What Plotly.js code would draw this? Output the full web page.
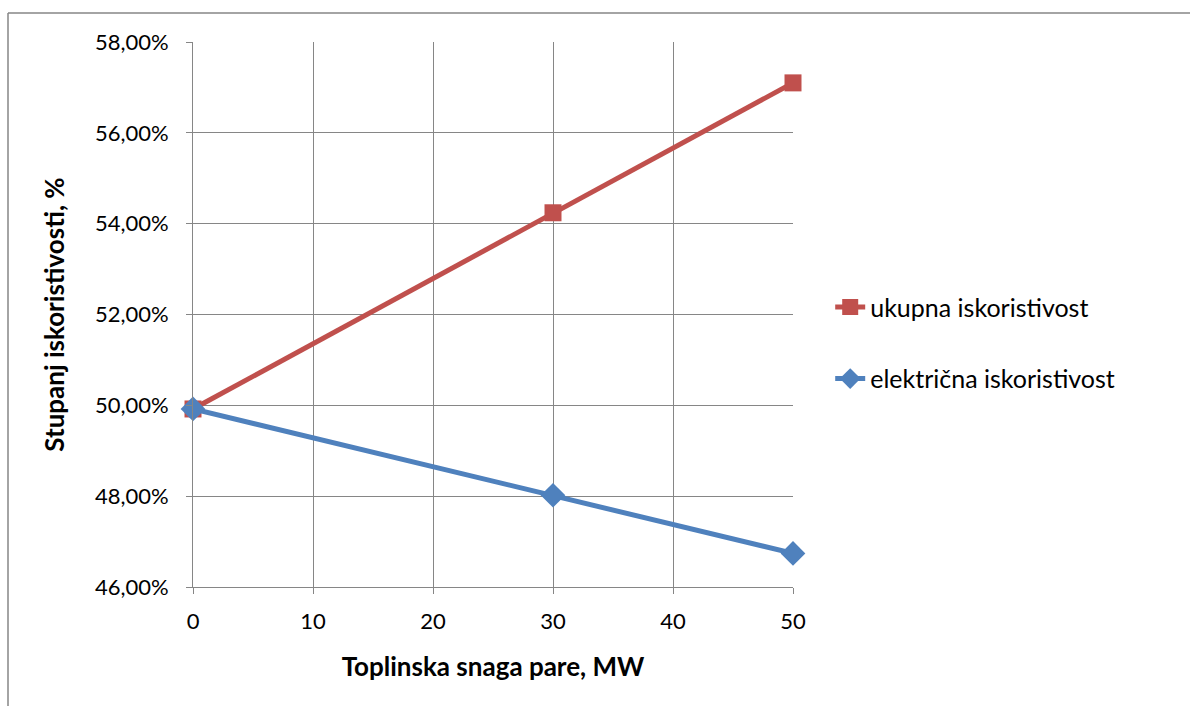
<!DOCTYPE html>
<html>
<head>
<meta charset="utf-8">
<script src="https://cdn.plot.ly/plotly-3.0.1.min.js"></script>
<style>html,body{margin:0;padding:0;background:#fff;}#chart{width:1190px;height:706px;}</style>
</head>
<body>
<div id="chart"></div>
<script>
const xValues = [0, 30, 50];
const ukupna = [0.4992, 0.5424, 0.5710];
const elektricna = [0.4992, 0.4802, 0.4674];
const nameUkupna = 'ukupna iskoristivost';
const nameElektricna = 'električna iskoristivost';
const xTitle = 'Toplinska snaga pare, MW';
const yTitle = 'Stupanj iskoristivosti, %';

const font = 'Lato, "Open Sans", sans-serif';

const traces = [
  {x: xValues, y: ukupna, name: nameUkupna, type: 'scatter', mode: 'lines+markers', cliponaxis: false,
   line: {color: '#C0504D', width: 5}, marker: {symbol: 'square', size: 17, color: '#C0504D'},
   legendgroup: 'a'},
  {x: xValues, y: elektricna, name: nameElektricna, type: 'scatter', mode: 'lines+markers', cliponaxis: false,
   line: {color: '#4F81BD', width: 5}, marker: {symbol: 'diamond', size: 19, color: '#4F81BD'},
   legendgroup: 'b'}
];

const layout = {
  width: 1190, height: 706,
  margin: {l: 193, r: 397, t: 42, b: 119},
  paper_bgcolor: '#fff', plot_bgcolor: '#fff',
  separators: ', ',
  font: {family: font, size: 22, color: '#000'},
  showlegend: true,
  legend: {x: 1.062, xanchor: 'left', y: 0.448, yanchor: 'middle', traceorder: 'grouped',
           tracegroupgap: 36, font: {family: font, size: 25, color: '#000'}, bgcolor: 'rgba(0,0,0,0)'},
  xaxis: {range: [0, 50], tickvals: [0, 10, 20, 30, 40, 50], showgrid: true, gridcolor: '#868686', gridwidth: 1,
          zeroline: false, showline: true, linecolor: '#868686', linewidth: 1, mirror: false,
          ticks: 'outside', ticklen: 6, tickcolor: '#868686', tickfont: {size: 22}, ticklabelstandoff: 9,
          title: {text: xTitle, font: {family: font, size: 26, weight: 'bold'}, standoff: 24}},
  yaxis: {range: [0.46, 0.58], dtick: 0.02, tickformat: '.2%', showgrid: true, gridcolor: '#868686', gridwidth: 1,
          zeroline: false, showline: true, linecolor: '#868686', linewidth: 1,
          ticks: 'outside', ticklen: 6, tickcolor: '#868686', tickfont: {size: 22}, ticklabelstandoff: 13,
          title: {text: yTitle, font: {family: font, size: 26, weight: 'bold'}, standoff: 22}},
  shapes: [
    {type: 'line', xref: 'paper', yref: 'paper', x0: (8-193)/600, x1: (1190-193)/600, y0: (587-13)/545, y1: (587-13)/545,
     line: {color: '#868686', width: 1.5}},
    {type: 'line', xref: 'paper', yref: 'paper', x0: (8-193)/600, x1: (8-193)/600, y0: (587-13)/545, y1: (587-706)/545,
     line: {color: '#868686', width: 1.5}}
  ]
};

Plotly.newPlot('chart', traces, layout, {displayModeBar: false, staticPlot: true});
</script>
</body>
</html>
